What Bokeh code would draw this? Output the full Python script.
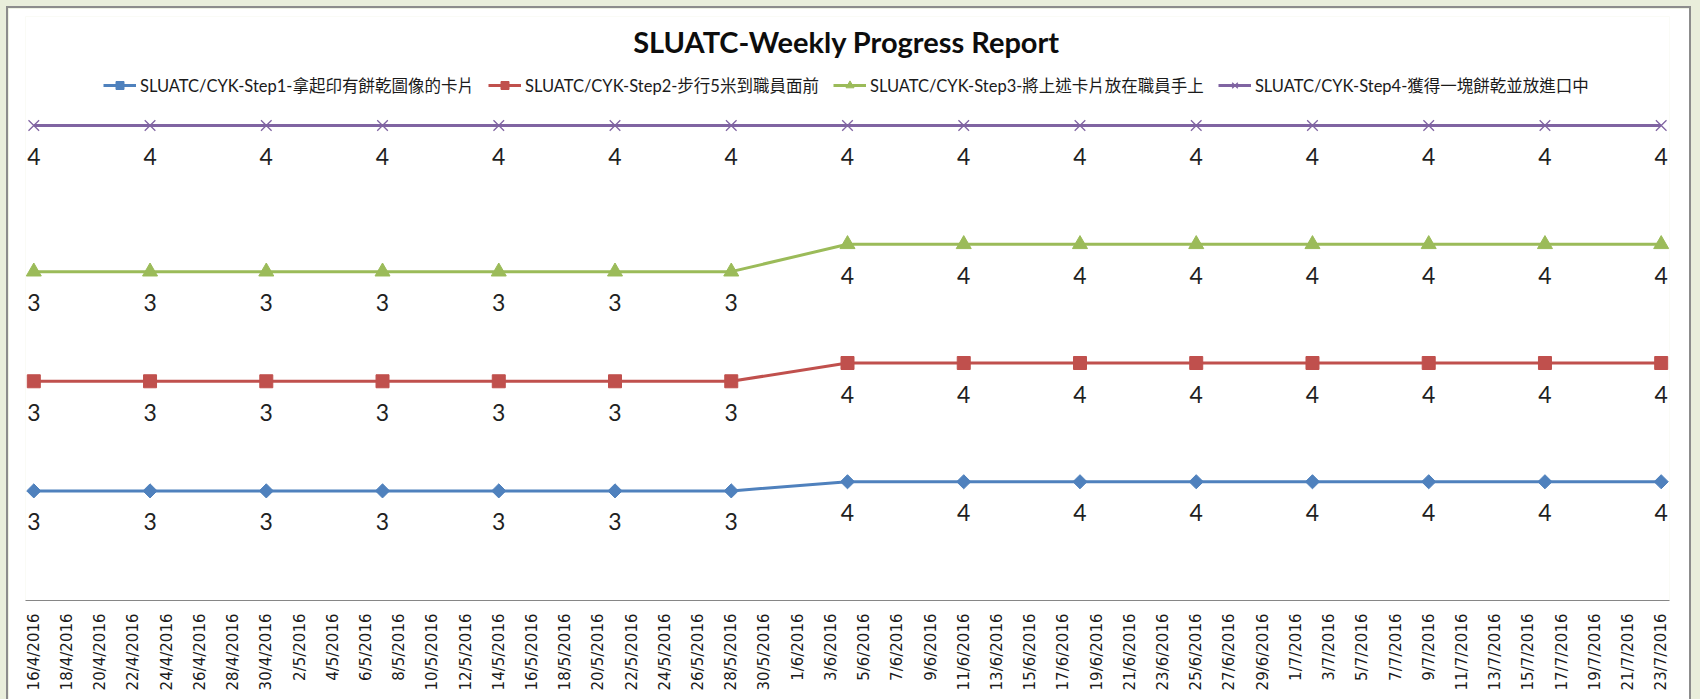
import pandas as pd
from math import pi
from bokeh.plotting import figure
from bokeh.models import ColumnDataSource, Range1d, FixedTicker, Legend, LegendItem, Label
from bokeh.core.properties import value
from bokeh.embed import file_html
from bokeh.resources import INLINE

# ---------------- data ----------------
dates = ["2016-04-16", "2016-04-23", "2016-04-30", "2016-05-07", "2016-05-14",
         "2016-05-21", "2016-05-28", "2016-06-04", "2016-06-11", "2016-06-18",
         "2016-06-25", "2016-07-02", "2016-07-09", "2016-07-16", "2016-07-23"]
step1 = [3, 3, 3, 3, 3, 3, 3, 4, 4, 4, 4, 4, 4, 4, 4]
step2 = [3, 3, 3, 3, 3, 3, 3, 4, 4, 4, 4, 4, 4, 4, 4]
step3 = [3, 3, 3, 3, 3, 3, 3, 4, 4, 4, 4, 4, 4, 4, 4]
step4 = [4, 4, 4, 4, 4, 4, 4, 4, 4, 4, 4, 4, 4, 4, 4]
series_names = ["SLUATC/CYK-Step1-拿起印有餅乾圖像的卡片",
                "SLUATC/CYK-Step2-步行5米到職員面前",
                "SLUATC/CYK-Step3-將上述卡片放在職員手上",
                "SLUATC/CYK-Step4-獲得一塊餅乾並放進口中"]
title_text = "SLUATC-Weekly Progress Report"
tick_first = "2016-04-16"
tick_last = "2016-07-23"
tick_every_days = 2

colors = ["#4F81BD", "#C0504D", "#9BBB59", "#8064A2"]

# ---------------- derived ----------------
x = pd.to_datetime(dates)
series = [step1, step2, step3, step4]
totals = [sum(v) for v in zip(*series)]
cum = [0.0] * len(dates)
stacked = []
for s in series:
    cum = [c + v for c, v in zip(cum, s)]
    stacked.append([c / t for c, t in zip(cum, totals)])

tick_dates = pd.date_range(tick_first, tick_last, freq=f"{tick_every_days}D")
epoch = pd.Timestamp("1970-01-01")
tick_ms = [float((d - epoch) / pd.Timedelta(milliseconds=1)) for d in tick_dates]
tick_labels = {ms: f"{d.day}/{d.month}/{d.year}" for ms, d in zip(tick_ms, tick_dates)}

half_day = pd.Timedelta(hours=12)
x_start = x[0] - half_day
x_end = x[-1] + half_day

W, H = 1681, 691
p = figure(width=W, height=H, x_axis_type="datetime", y_axis_location=None,
           output_backend="svg", toolbar_location=None,
           x_range=Range1d(x_start, x_end), y_range=Range1d(0, 1.2295),
           min_border_left=17, min_border_right=20, min_border_top=8,
           min_border_bottom=99)
p.styles = {"margin-left": "8px", "margin-top": "8px",
            "outline": "2px solid #8c8c8c"}
p.background_fill_color = "white"
p.border_fill_color = "white"
p.outline_line_color = None
p.xgrid.visible = False
p.ygrid.visible = False

ax = p.xaxis[0]
ax.ticker = FixedTicker(ticks=tick_ms)
ax.major_label_overrides = tick_labels
ax.major_label_orientation = pi / 2
ax.major_label_standoff = 7
ax.major_tick_line_color = None
ax.minor_tick_line_color = None
ax.axis_line_color = "#868686"
ax.axis_line_width = 1
ax.major_label_text_font = "DejaVu Sans"
ax.major_label_text_font_size = "15px"
ax.major_label_text_color = "#1a1a1a"

markers = [dict(marker="square", angle=pi / 4, size=10),
           dict(marker="square", angle=0, size=13),
           dict(marker="triangle", angle=0, size=15),
           dict(marker="x", angle=0, size=15)]

items = []
for vals, ys, name, col, mk in zip(series, stacked, series_names, colors, markers):
    src = ColumnDataSource(dict(x=x, y=ys, lab=[str(v) for v in vals]))
    lr = p.line("x", "y", source=src, line_color=col, line_width=3)
    if mk["marker"] == "x":
        sr = p.scatter("x", "y", source=src, marker="x", size=mk["size"],
                       line_color=col, line_width=1.3)
    else:
        sr = p.scatter("x", "y", source=src, marker=mk["marker"], angle=mk["angle"],
                       size=mk["size"], fill_color=col, line_color=col)
    p.text("x", "y", text="lab", source=src, y_offset=31, text_align="center",
           text_baseline="middle", text_font=value("Lato"), text_font_size="23px",
           text_color="#1f1f1f")
    items.append(LegendItem(label=name, renderers=[lr, sr]))

legend = Legend(items=items, orientation="horizontal", location=(78, 503),
                spacing=14, glyph_width=33, glyph_height=20, label_height=20,
                label_standoff=4, padding=0, margin=0, border_line_color=None,
                background_fill_alpha=0,
                label_text_font="Lato, 'Noto Sans CJK TC'", label_text_font_size="16.5px",
                label_text_color="#1a1a1a")
p.add_layout(legend)

p.add_layout(Label(x=821, y=559, x_units="screen", y_units="screen", text=title_text,
                   text_align="center", text_baseline="middle", text_font="Lato",
                   text_font_style="bold", text_font_size="29px", text_color="#0d0d0d"))

html = file_html(p, INLINE)
html = html.replace("</head>",
                    "<style>html, body { background: #e9eedb !important; }</style></head>", 1)
open("out.html", "w").write(html)
